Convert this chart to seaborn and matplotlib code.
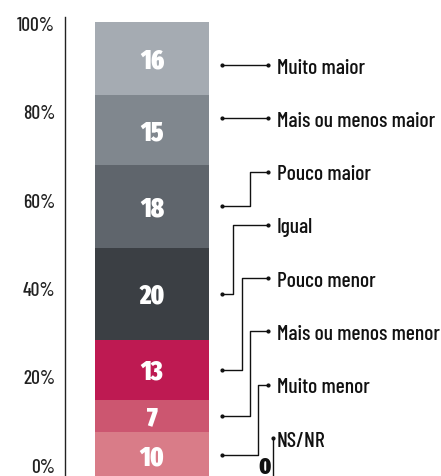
import numpy as np
import matplotlib
matplotlib.use("Agg")
import matplotlib.pyplot as plt
import seaborn as sns

# data, bottom to top
categories = ["NS/NR", "Muito menor", "Mais ou menos menor", "Pouco menor",
              "Igual", "Pouco maior", "Mais ou menos maior", "Muito maior"]
values = [0, 10, 7, 13, 20, 18, 15, 16]
colors = ["#000000", "#d97c88", "#cc5670", "#be1a52",
          "#3b3f44", "#5f656c", "#80878e", "#a5abb2"]
yticks = [0, 20, 40, 60, 80, 100]
ytick_labels = ["0%", "20%", "40%", "60%", "80%", "100%"]

# leader elbows (image pixels), None = straight line
elbows = {"Muito maior": None, "Mais ou menos maior": None, "Pouco maior": 250,
          "Igual": 233, "Pouco menor": 242, "Mais ou menos menor": 250,
          "Muito menor": 258}

sns.set_style("white")
LABFONT = ['Barlow Condensed', 'DejaVu Sans']
NUMFONT = ['Fira Sans Extra Condensed', 'DejaVu Sans']
plt.rcParams['font.family'] = LABFONT

W, H = 441, 477
fig = plt.figure(figsize=(W / 100, H / 100), dpi=100)
ax = fig.add_axes([65 / W, -2 / H, (W - 65) / W, 461 / H])
renderer = fig.canvas.get_renderer()

# pixel -> data helpers
xscale = 114 / 0.8
x0 = -87 / xscale
def xd(px):
    return x0 + (px - 65) / xscale
def yd(py):
    return (479 - py) / 4.61
def cap(fs):
    # half cap height in data units, for baseline placement
    return 0.7 * fs * 100 / 72 / 2 / 4.61
def fit(s, target, family, weight="normal", fs=16):
    # font size giving a text width of target pixels
    t = fig.text(0, 0, s, fontsize=fs, family=family, fontweight=weight)
    w = t.get_window_extent(renderer).width
    t.remove()
    return fs * target / w

cum = np.cumsum(values)
# draw stacked bars tallest first
for i in range(len(values) - 1, 0, -1):
    sns.barplot(x=["t"], y=[cum[i]], color=colors[i], saturation=1,
                width=0.8, ax=ax, linewidth=0)

ax.set_xlim(x0, x0 + (W - 65) / xscale)
ax.set_ylim(0, 100)
ax.set_xlabel("")
ax.set_ylabel("")
ax.set_xticks([])
ax.set_yticks(yticks)
ax.set_yticklabels([])
ax.tick_params(axis="y", direction="in", length=8.6, width=1, color="#333333")
for s in ["top", "right", "bottom"]:
    ax.spines[s].set_visible(False)
ax.spines["left"].set_color("#222222")
ax.spines["left"].set_linewidth(1)

# tick labels sit on their own, slightly tighter spacing than the ticks
tfs = fit("100%", 38, LABFONT, "medium")
for lab, c in zip(ytick_labels, np.linspace(466, 24, 6)):
    ax.text(xd(55), yd(c) - cap(tfs), lab, ha="right", va="baseline",
            fontsize=tfs, fontweight="medium", color="#222222", clip_on=False)

# numbers inside bars
nfs = 19
for i in range(1, len(values)):
    mid = cum[i] - values[i] / 2
    ax.text(0, mid - cap(nfs), str(values[i]), ha="center", va="baseline",
            color="white", fontsize=nfs, fontweight="black", family=NUMFONT)

# leader lines and labels
lfs = fit("Mais ou menos maior", 159, LABFONT, "medium")
label_y = [yd(p) for p in np.linspace(439, 66, 8)]
for i in range(1, len(values)):
    name = categories[i]
    mid = cum[i] - values[i] / 2
    ly = label_y[i]
    e = elbows[name]
    if e is None:
        xs = [xd(222), xd(268)]
        ys = [ly, ly]
    else:
        xs = [xd(222), xd(e), xd(e), xd(268)]
        ys = [mid, mid, ly, ly]
    ax.plot(xs, ys, color="#111111", lw=1, clip_on=False)
    ax.plot([xs[0], xs[-1]], [ys[0], ys[-1]], "o", ms=2, color="#111111", clip_on=False)
    ax.text(xd(277), ly - cap(lfs), name, ha="left", va="baseline",
            fontsize=lfs, fontweight="medium", color="#111111")

# NS/NR (zero)
ly = label_y[0]
ax.plot([xd(273), xd(273)], [0, ly], color="#111111", lw=1, clip_on=False)
ax.plot([xd(273)], [ly], "o", ms=2, color="#111111", clip_on=False)
ax.text(xd(277), ly - cap(lfs), categories[0], ha="left", va="baseline",
        fontsize=lfs, fontweight="medium", color="#111111")
ax.text(xd(265), yd(466) - cap(17), str(values[0]), ha="center", va="baseline",
        fontsize=17, fontweight="black", family=NUMFONT, color="#111111")

fig.savefig("out.png", dpi=100)
